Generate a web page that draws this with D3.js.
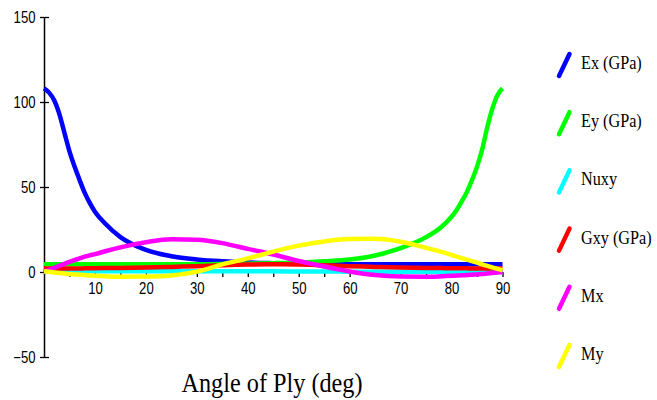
<!DOCTYPE html>
<html>
<head>
<meta charset="utf-8">
<script src="https://cdn.jsdelivr.net/npm/d3@7"></script>
<style>
  body { margin: 0; background: #fff; }
</style>
</head>
<body>
<script>
// ply angle (deg) and the six property curves
var angles = [0,1,2,3,4,5,6,7,8,9,10,12,15,20,25,30,35,40,45,50,55,60,65,70,75,78,80,81,82,83,84,85,86,87,88,89,90]

var ex = [108,105.5,101,93,82,71,62,54,46.5,40.5,35.5,28.5,20.5,13,9.3,7.4,6.3,5.6,5.2,4.9,4.7,4.6,4.5,4.5,4.5,4.5,4.5,4.5,4.5,4.5,4.5,4.5,4.5,4.5,4.5,4.5,4.5]
var ey = [4.5,4.5,4.5,4.5,4.5,4.5,4.5,4.5,4.5,4.5,4.5,4.5,4.5,4.5,4.5,4.6,4.7,4.9,5.2,5.6,6.3,7.3,9.7,14,20.5,26.5,32.5,36.5,41.5,47,54,62,72,85,96,104,108]
var nuxy = [0.3,0.31,0.32,0.33,0.34,0.35,0.36,0.37,0.38,0.39,0.4,0.42,0.45,0.48,0.5,0.49,0.46,0.42,0.37,0.32,0.27,0.22,0.17,0.12,0.08,0.06,0.05,0.04,0.04,0.03,0.03,0.02,0.02,0.02,0.01,0.01,0.01]
var gxy = [2,2,2,2,2.05,2.05,2.1,2.1,2.15,2.15,2.2,2.3,2.4,2.6,3,3.4,4,4.4,4.5,4.4,4,3.4,3,2.6,2.4,2.3,2.2,2.2,2.15,2.15,2.1,2.1,2.05,2.05,2,2,2]
var mx = [0,1.2,2.4,3.6,4.8,6,7,8,9,9.8,10.5,12.2,14.5,17.5,19.3,19,17,13.6,10.3,6.5,3.2,0.3,-1.8,-2.7,-2.8,-2.5,-2.2,-2.1,-1.9,-1.8,-1.6,-1.4,-1.2,-0.9,-0.6,-0.3,0]
var my = [0.5,0.1,-0.3,-0.6,-0.9,-1.2,-1.4,-1.6,-1.8,-2,-2.2,-2.5,-2.8,-2.7,-2,0.2,4.5,8,12,15.5,18,19.4,19.5,17.8,14.2,11.8,10,9.1,8.2,7.3,6.4,5.5,4.5,3.6,2.7,1.8,1]

var seriesNames = ["Ex (GPa)", "Ey (GPa)", "Nuxy", "Gxy (GPa)", "Mx", "My"]
var seriesValues = [ex, ey, nuxy, gxy, mx, my]
var seriesColors = ["#0000ff", "#00ff00", "#00ffff", "#ff0000", "#ff00ff", "#ffff00"]

var xTicks = [5,10,15,20,25,30,35,40,45,50,55,60,65,70,75,80,85,90]
var yTicks = [-50, 0, 50, 100, 150]
var xTitle = "Angle of Ply (deg)"

var width = 657, height = 400

var svg = d3.select("body").append("svg").attr("width", width).attr("height", height)

var x = d3.scaleLinear().domain([0, 90]).range([44, 502.5])
var y = d3.scaleLinear().domain([-50, 150]).range([357, 17])

// squash text horizontally, the original is narrow and tall
function squeeze(sel, k) {
  sel.each(function() {
    var w = this.getComputedTextLength()
    d3.select(this).attr("textLength", w * k).attr("lengthAdjust", "spacingAndGlyphs")
  })
}

// y axis, ticks cross the line
var gy = svg.append("g").attr("transform", "translate(" + x(0) + ",0)")
  .call(d3.axisLeft(y).tickValues(yTicks).tickSize(4).tickSizeOuter(0).tickPadding(4.5))
gy.select(".domain").attr("stroke", "#000").attr("stroke-width", 1.5)
gy.selectAll(".tick line").attr("x1", 5).attr("x2", -4).attr("stroke", "#000").attr("stroke-width", 1.3)
gy.selectAll(".tick text").attr("font-family", "Liberation Sans, Arial, sans-serif").attr("font-size", 16).attr("fill", "#000")
  .call(squeeze, 0.82)

// x axis sits on y = 0
var gx = svg.append("g").attr("transform", "translate(0," + y(0) + ")")
  .call(d3.axisBottom(x).tickValues(xTicks).tickSize(5).tickSizeOuter(0).tickPadding(5.5)
    .tickFormat(function(d) { return d % 10 == 0 ? d : "" }))
gx.select(".domain").attr("stroke", "#000").attr("stroke-width", 1)
gx.selectAll(".tick line").attr("stroke", "#000").attr("stroke-width", 1.3)
gx.selectAll(".tick text").attr("font-family", "Liberation Sans, Arial, sans-serif").attr("font-size", 16).attr("fill", "#000")
  .call(squeeze, 0.82)

// curves
var line = d3.line()
  .x(function(d, i) { return x(angles[i]) })
  .y(function(d) { return y(d) })
  .curve(d3.curveMonotoneX)

svg.append("g").selectAll("path")
  .data(seriesValues)
  .enter().append("path")
  .attr("d", line)
  .attr("fill", "none")
  .attr("stroke", function(d, i) { return seriesColors[i] })
  .attr("stroke-width", 4.5)

// legend
var leg = svg.append("g").selectAll("g")
  .data(seriesNames)
  .enter().append("g")
  .attr("transform", function(d, i) { return "translate(0," + (69 + i * 58.2) + ")" })

leg.append("line")
  .attr("x1", 559).attr("y1", 7)
  .attr("x2", 569.5).attr("y2", -15)
  .attr("stroke", function(d, i) { return seriesColors[i] })
  .attr("stroke-width", 4.5)
  .attr("stroke-linecap", "round")

leg.append("text")
  .attr("x", 581).attr("y", 0)
  .attr("font-family", "Liberation Serif, Times New Roman, serif")
  .attr("font-size", 18)
  .text(function(d) { return d })
  .call(squeeze, 0.9)

svg.append("text")
  .attr("x", 181.5).attr("y", 391.5)
  .attr("font-family", "Liberation Serif, Times New Roman, serif")
  .attr("font-size", 28)
  .attr("textLength", 181).attr("lengthAdjust", "spacingAndGlyphs")
  .text(xTitle)
</script>
</body>
</html>
